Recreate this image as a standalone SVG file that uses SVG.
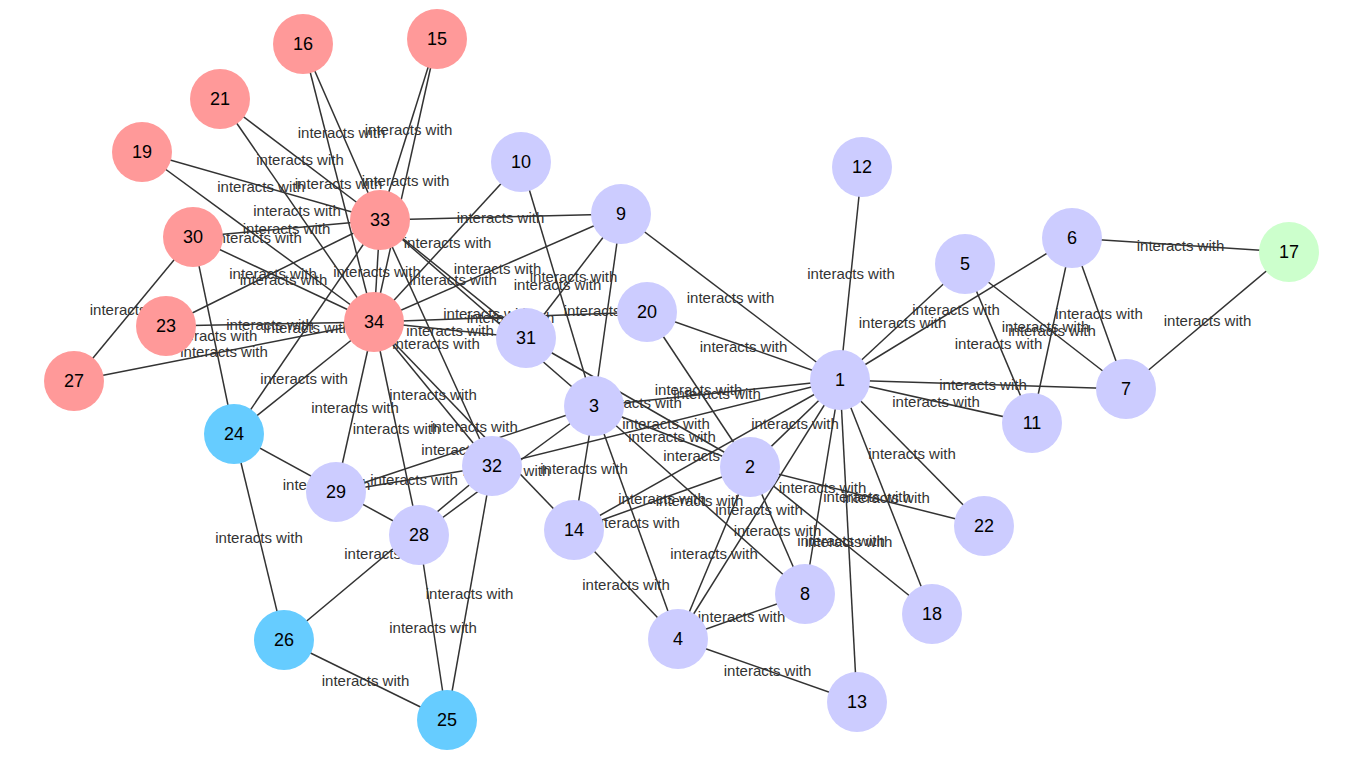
<svg xmlns="http://www.w3.org/2000/svg" width="1360" height="762" viewBox="0 0 1360 762">
<style>
.e line{stroke:#333;stroke-width:1.5}
.l text{font-family:"Liberation Sans",Arial,sans-serif;font-size:15px;fill:#333;text-anchor:middle;dominant-baseline:central}
.n circle{stroke:none}
.n text{font-family:"Liberation Sans",Arial,sans-serif;font-size:18px;fill:#000;text-anchor:middle;dominant-baseline:central}
.p{fill:#ccccff}.r{fill:#ff9999}.b{fill:#66ccff}.g{fill:#ccffcc}
</style>
<rect width="1360" height="762" fill="#fff"/>
<g id="connectors">
<g class="e">
<line x1="840" y1="380" x2="750" y2="467"/>
<line x1="840" y1="380" x2="594" y2="406"/>
<line x1="840" y1="380" x2="678" y2="639"/>
<line x1="840" y1="380" x2="965" y2="264"/>
<line x1="840" y1="380" x2="1072" y2="238"/>
<line x1="840" y1="380" x2="1126" y2="389"/>
<line x1="840" y1="380" x2="805" y2="594"/>
<line x1="840" y1="380" x2="621" y2="214"/>
<line x1="840" y1="380" x2="1032" y2="423"/>
<line x1="840" y1="380" x2="862" y2="167"/>
<line x1="840" y1="380" x2="857" y2="702"/>
<line x1="840" y1="380" x2="574" y2="530"/>
<line x1="840" y1="380" x2="932" y2="614"/>
<line x1="840" y1="380" x2="647" y2="312"/>
<line x1="840" y1="380" x2="984" y2="526"/>
<line x1="840" y1="380" x2="492" y2="466"/>
<line x1="750" y1="467" x2="594" y2="406"/>
<line x1="750" y1="467" x2="678" y2="639"/>
<line x1="750" y1="467" x2="805" y2="594"/>
<line x1="750" y1="467" x2="574" y2="530"/>
<line x1="750" y1="467" x2="932" y2="614"/>
<line x1="750" y1="467" x2="647" y2="312"/>
<line x1="750" y1="467" x2="984" y2="526"/>
<line x1="750" y1="467" x2="526" y2="338"/>
<line x1="594" y1="406" x2="678" y2="639"/>
<line x1="594" y1="406" x2="805" y2="594"/>
<line x1="594" y1="406" x2="621" y2="214"/>
<line x1="594" y1="406" x2="521" y2="162"/>
<line x1="594" y1="406" x2="574" y2="530"/>
<line x1="594" y1="406" x2="419" y2="535"/>
<line x1="594" y1="406" x2="336" y2="492"/>
<line x1="594" y1="406" x2="380" y2="220"/>
<line x1="678" y1="639" x2="805" y2="594"/>
<line x1="678" y1="639" x2="857" y2="702"/>
<line x1="678" y1="639" x2="574" y2="530"/>
<line x1="965" y1="264" x2="1126" y2="389"/>
<line x1="965" y1="264" x2="1032" y2="423"/>
<line x1="1072" y1="238" x2="1126" y2="389"/>
<line x1="1072" y1="238" x2="1032" y2="423"/>
<line x1="1072" y1="238" x2="1289" y2="252"/>
<line x1="1126" y1="389" x2="1289" y2="252"/>
<line x1="621" y1="214" x2="526" y2="338"/>
<line x1="621" y1="214" x2="380" y2="220"/>
<line x1="621" y1="214" x2="374" y2="322"/>
<line x1="521" y1="162" x2="374" y2="322"/>
<line x1="574" y1="530" x2="374" y2="322"/>
<line x1="437" y1="39" x2="380" y2="220"/>
<line x1="437" y1="39" x2="374" y2="322"/>
<line x1="303" y1="44" x2="380" y2="220"/>
<line x1="303" y1="44" x2="374" y2="322"/>
<line x1="142" y1="152" x2="380" y2="220"/>
<line x1="142" y1="152" x2="374" y2="322"/>
<line x1="647" y1="312" x2="374" y2="322"/>
<line x1="220" y1="99" x2="380" y2="220"/>
<line x1="220" y1="99" x2="374" y2="322"/>
<line x1="166" y1="326" x2="380" y2="220"/>
<line x1="166" y1="326" x2="374" y2="322"/>
<line x1="234" y1="434" x2="284" y2="640"/>
<line x1="234" y1="434" x2="419" y2="535"/>
<line x1="234" y1="434" x2="193" y2="237"/>
<line x1="234" y1="434" x2="380" y2="220"/>
<line x1="234" y1="434" x2="374" y2="322"/>
<line x1="447" y1="720" x2="284" y2="640"/>
<line x1="447" y1="720" x2="419" y2="535"/>
<line x1="447" y1="720" x2="492" y2="466"/>
<line x1="284" y1="640" x2="492" y2="466"/>
<line x1="74" y1="381" x2="193" y2="237"/>
<line x1="74" y1="381" x2="374" y2="322"/>
<line x1="419" y1="535" x2="374" y2="322"/>
<line x1="336" y1="492" x2="492" y2="466"/>
<line x1="336" y1="492" x2="374" y2="322"/>
<line x1="193" y1="237" x2="380" y2="220"/>
<line x1="193" y1="237" x2="374" y2="322"/>
<line x1="526" y1="338" x2="380" y2="220"/>
<line x1="526" y1="338" x2="374" y2="322"/>
<line x1="492" y1="466" x2="380" y2="220"/>
<line x1="492" y1="466" x2="374" y2="322"/>
<line x1="380" y1="220" x2="374" y2="322"/>
</g>
<g class="l">
<text x="795" y="423.5">interacts with</text>
<text x="717" y="393">interacts with</text>
<text x="759" y="509.5">interacts with</text>
<text x="902.5" y="322">interacts with</text>
<text x="956" y="309">interacts with</text>
<text x="983" y="384.5">interacts with</text>
<text x="822.5" y="487">interacts with</text>
<text x="730.5" y="297">interacts with</text>
<text x="936" y="401.5">interacts with</text>
<text x="851" y="273.5">interacts with</text>
<text x="848.5" y="541">interacts with</text>
<text x="707" y="455">interacts with</text>
<text x="886" y="497">interacts with</text>
<text x="743.5" y="346">interacts with</text>
<text x="912" y="453">interacts with</text>
<text x="666" y="423">interacts with</text>
<text x="672" y="436.5">interacts with</text>
<text x="714" y="553">interacts with</text>
<text x="777.5" y="530.5">interacts with</text>
<text x="662" y="498.5">interacts with</text>
<text x="841" y="540.5">interacts with</text>
<text x="698.5" y="389.5">interacts with</text>
<text x="867" y="496.5">interacts with</text>
<text x="638" y="402.5">interacts with</text>
<text x="636" y="522.5">interacts with</text>
<text x="699.5" y="500">interacts with</text>
<text x="607.5" y="310">interacts with</text>
<text x="557.5" y="284">interacts with</text>
<text x="584" y="468">interacts with</text>
<text x="506.5" y="470.5">interacts with</text>
<text x="465" y="449">interacts with</text>
<text x="487" y="313">interacts with</text>
<text x="741.5" y="616.5">interacts with</text>
<text x="767.5" y="670.5">interacts with</text>
<text x="626" y="584.5">interacts with</text>
<text x="1045.5" y="326.5">interacts with</text>
<text x="998.5" y="343.5">interacts with</text>
<text x="1099" y="313.5">interacts with</text>
<text x="1052" y="330.5">interacts with</text>
<text x="1180.5" y="245">interacts with</text>
<text x="1207.5" y="320.5">interacts with</text>
<text x="573.5" y="276">interacts with</text>
<text x="500.5" y="217">interacts with</text>
<text x="497.5" y="268">interacts with</text>
<text x="447.5" y="242">interacts with</text>
<text x="474" y="426">interacts with</text>
<text x="408.5" y="129.5">interacts with</text>
<text x="405.5" y="180.5">interacts with</text>
<text x="341.5" y="132">interacts with</text>
<text x="338.5" y="183">interacts with</text>
<text x="261" y="186">interacts with</text>
<text x="258" y="237">interacts with</text>
<text x="510.5" y="317">interacts with</text>
<text x="300" y="159.5">interacts with</text>
<text x="297" y="210.5">interacts with</text>
<text x="273" y="273">interacts with</text>
<text x="270" y="324">interacts with</text>
<text x="259" y="537">interacts with</text>
<text x="326.5" y="484.5">interacts with</text>
<text x="213.5" y="335.5">interacts with</text>
<text x="307" y="327">interacts with</text>
<text x="304" y="378">interacts with</text>
<text x="365.5" y="680">interacts with</text>
<text x="433" y="627.5">interacts with</text>
<text x="469.5" y="593">interacts with</text>
<text x="388" y="553">interacts with</text>
<text x="133.5" y="309">interacts with</text>
<text x="224" y="351.5">interacts with</text>
<text x="396.5" y="428.5">interacts with</text>
<text x="414" y="479">interacts with</text>
<text x="355" y="407">interacts with</text>
<text x="286.5" y="228.5">interacts with</text>
<text x="283.5" y="279.5">interacts with</text>
<text x="453" y="279">interacts with</text>
<text x="450" y="330">interacts with</text>
<text x="436" y="343">interacts with</text>
<text x="433" y="394">interacts with</text>
<text x="377" y="271">interacts with</text>
</g>
</g>
<g class="n">
<g id="n1"><circle class="p" cx="840" cy="380" r="30"/><text x="840" y="380">1</text></g>
<g id="n2"><circle class="p" cx="750" cy="467" r="30"/><text x="750" y="467">2</text></g>
<g id="n3"><circle class="p" cx="594" cy="406" r="30"/><text x="594" y="406">3</text></g>
<g id="n4"><circle class="p" cx="678" cy="639" r="30"/><text x="678" y="639">4</text></g>
<g id="n5"><circle class="p" cx="965" cy="264" r="30"/><text x="965" y="264">5</text></g>
<g id="n6"><circle class="p" cx="1072" cy="238" r="30"/><text x="1072" y="238">6</text></g>
<g id="n7"><circle class="p" cx="1126" cy="389" r="30"/><text x="1126" y="389">7</text></g>
<g id="n8"><circle class="p" cx="805" cy="594" r="30"/><text x="805" y="594">8</text></g>
<g id="n9"><circle class="p" cx="621" cy="214" r="30"/><text x="621" y="214">9</text></g>
<g id="n10"><circle class="p" cx="521" cy="162" r="30"/><text x="521" y="162">10</text></g>
<g id="n11"><circle class="p" cx="1032" cy="423" r="30"/><text x="1032" y="423">11</text></g>
<g id="n12"><circle class="p" cx="862" cy="167" r="30"/><text x="862" y="167">12</text></g>
<g id="n13"><circle class="p" cx="857" cy="702" r="30"/><text x="857" y="702">13</text></g>
<g id="n14"><circle class="p" cx="574" cy="530" r="30"/><text x="574" y="530">14</text></g>
<g id="n15"><circle class="r" cx="437" cy="39" r="30"/><text x="437" y="39">15</text></g>
<g id="n16"><circle class="r" cx="303" cy="44" r="30"/><text x="303" y="44">16</text></g>
<g id="n17"><circle class="g" cx="1289" cy="252" r="30"/><text x="1289" y="252">17</text></g>
<g id="n18"><circle class="p" cx="932" cy="614" r="30"/><text x="932" y="614">18</text></g>
<g id="n19"><circle class="r" cx="142" cy="152" r="30"/><text x="142" y="152">19</text></g>
<g id="n20"><circle class="p" cx="647" cy="312" r="30"/><text x="647" y="312">20</text></g>
<g id="n21"><circle class="r" cx="220" cy="99" r="30"/><text x="220" y="99">21</text></g>
<g id="n22"><circle class="p" cx="984" cy="526" r="30"/><text x="984" y="526">22</text></g>
<g id="n23"><circle class="r" cx="166" cy="326" r="30"/><text x="166" y="326">23</text></g>
<g id="n24"><circle class="b" cx="234" cy="434" r="30"/><text x="234" y="434">24</text></g>
<g id="n25"><circle class="b" cx="447" cy="720" r="30"/><text x="447" y="720">25</text></g>
<g id="n26"><circle class="b" cx="284" cy="640" r="30"/><text x="284" y="640">26</text></g>
<g id="n27"><circle class="r" cx="74" cy="381" r="30"/><text x="74" y="381">27</text></g>
<g id="n28"><circle class="p" cx="419" cy="535" r="30"/><text x="419" y="535">28</text></g>
<g id="n29"><circle class="p" cx="336" cy="492" r="30"/><text x="336" y="492">29</text></g>
<g id="n30"><circle class="r" cx="193" cy="237" r="30"/><text x="193" y="237">30</text></g>
<g id="n31"><circle class="p" cx="526" cy="338" r="30"/><text x="526" y="338">31</text></g>
<g id="n32"><circle class="p" cx="492" cy="466" r="30"/><text x="492" y="466">32</text></g>
<g id="n33"><circle class="r" cx="380" cy="220" r="30"/><text x="380" y="220">33</text></g>
<g id="n34"><circle class="r" cx="374" cy="322" r="30"/><text x="374" y="322">34</text></g>
</g>
</svg>
